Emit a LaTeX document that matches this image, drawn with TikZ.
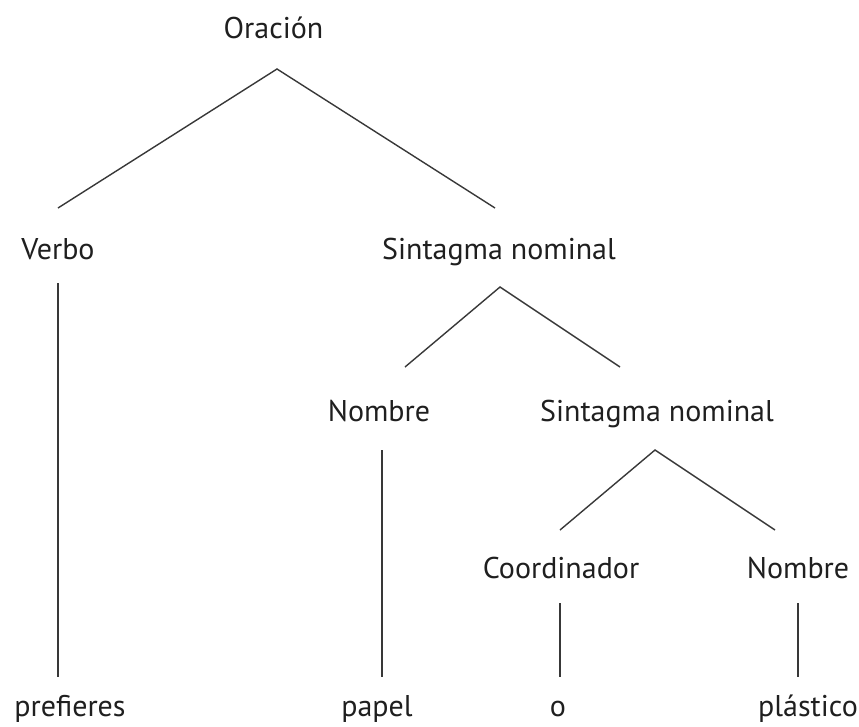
\documentclass[tikz,border=0pt]{standalone}
\usepackage{fontspec}
\setmainfont{PT Sans}
\begin{document}
\begin{tikzpicture}[x=1pt,y=-1pt,
  lbl/.style={anchor=base,inner sep=0pt,text=black!88,font=\fontsize{30}{36}\selectfont},
  branch/.style={draw=black!78,line width=1.4pt}]
\useasboundingbox (0,0) rectangle (859,726);
% labels of the tree
\node[lbl] (oracion) at (273.5,38) {Oración};
\node[lbl] (verbo) at (58,259) {Verbo};
\node[lbl] (sn1) at (499,259) {Sintagma nominal};
\node[lbl] (nombre1) at (379,421) {Nombre};
\node[lbl] (sn2) at (657,421) {Sintagma nominal};
\node[lbl] (coord) at (561,578) {Coordinador};
\node[lbl] (nombre2) at (798,578) {Nombre};
\node[lbl] (prefieres) at (70,716) {prefieres};
\node[lbl] (papel) at (377,716) {papel};
\node[lbl] (o) at (558,716) {o};
\node[lbl] (plastico) at (808,716) {plástico};
% branch end points
\coordinate (oracion-foot) at (277,69);
\coordinate (verbo-head) at (58,208);
\coordinate (sn1-head) at (495,208);
\coordinate (sn1-foot) at (500,287);
\coordinate (nombre1-head) at (405,367);
\coordinate (sn2-head) at (620,367);
\coordinate (sn2-foot) at (655,450);
\coordinate (coord-head) at (560,530);
\coordinate (nombre2-head) at (775,530);
\coordinate (verbo-foot) at (58,283);
\coordinate (prefieres-head) at (58,677);
\coordinate (nombre1-foot) at (382,450);
\coordinate (papel-head) at (382,677);
\coordinate (coord-foot) at (560,603);
\coordinate (o-head) at (560,677);
\coordinate (nombre2-foot) at (798,603);
\coordinate (plastico-head) at (798,677);
% branches
\draw[branch] (verbo-head) -- (oracion-foot) -- (sn1-head);
\draw[branch] (nombre1-head) -- (sn1-foot) -- (sn2-head);
\draw[branch] (coord-head) -- (sn2-foot) -- (nombre2-head);
\draw[branch] (verbo-foot) -- (prefieres-head);
\draw[branch] (nombre1-foot) -- (papel-head);
\draw[branch] (coord-foot) -- (o-head);
\draw[branch] (nombre2-foot) -- (plastico-head);
\end{tikzpicture}
\end{document}
